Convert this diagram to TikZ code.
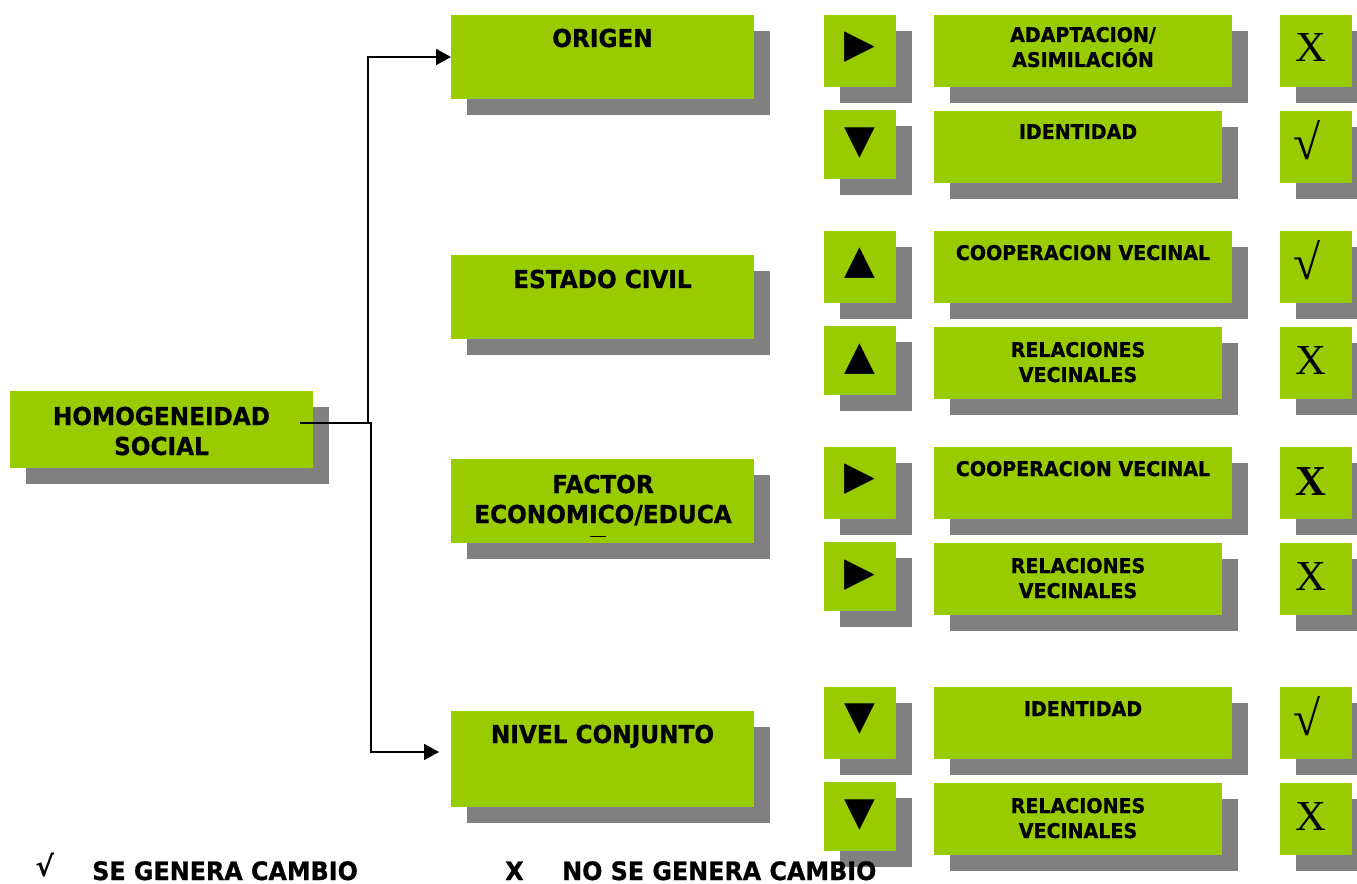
\documentclass[tikz,border=0pt]{standalone}
\usepackage{fontspec}
\newfontfamily\hf{DejaVu Sans}[FakeStretch=0.94, BoldFeatures={FakeBold=0.8}]
\newfontfamily\tnr{Liberation Serif}
\newfontfamily\symf{DejaVu Sans}
\usetikzlibrary{shadows,calc,arrows.meta}
\definecolor{boxgreen}{HTML}{99CC00}
\definecolor{shadowgray}{HTML}{808080}
\tikzset{
  gb/.style 2 args={fill=boxgreen, draw=none, inner sep=0pt, outer sep=0pt, anchor=north west,
    minimum width=#1*0.75pt, minimum height=#2*0.75pt,
    drop shadow={shadow xshift=12pt, shadow yshift=-12pt, fill=shadowgray, opacity=1}},
  htext/.style={font=\hf\bfseries\fontsize{18.5}{22.5}\selectfont, align=center, inner sep=0pt, anchor=base},
  stext/.style={font=\hf\bfseries\fontsize{15.2}{18.75}\selectfont, align=center, inner sep=0pt, anchor=base},
  tri/.style={font=\symf\fontsize{30}{30}\selectfont, inner sep=0pt, anchor=center},
  res/.style={font=\tnr\fontsize{32}{34}\selectfont, inner sep=0pt, anchor=center},
  rad/.style={font=\tnr\fontsize{37}{38}\selectfont, inner sep=0pt, anchor=center},
  legend/.style={font=\hf\bfseries\fontsize{19}{22}\selectfont, inner sep=0pt, anchor=base west},
  conn/.style={line width=1.5pt, draw=black, -{Triangle[length=11.25pt,width=12pt]}},
}
\begin{document}
\begin{tikzpicture}[x=0.75pt,y=-0.75pt]
\useasboundingbox (0,0) rectangle (1357,884);
% left column
\node[gb={303}{77}] (homo) at (10,391) {};
\node[gb={303}{84}] (origen) at (451,15) {};
\node[gb={303}{84}] (estado) at (451,255) {};
\node[gb={303}{84}] (factor) at (451,459) {};
\node[gb={303}{96}] (nivel) at (451,711) {};
\node[htext] (thomo) at (161.5,455) {HOMOGENEIDAD\\SOCIAL};
\node[htext] (torigen) at (602.5,47) {ORIGEN};
\node[htext] (testado) at (602.5,288) {ESTADO CIVIL};
\node[htext] (tfactor) at (603,523) {FACTOR\\ECONOMICO/EDUCA};
\draw[line width=0.75pt] (590,536) -- (606,536);
\node[htext] (tnivel) at (602.5,743) {NIVEL CONJUNTO};
% connectors
\coordinate (hs) at (300,422.5);
\coordinate (nv) at (439,752);
\draw[conn] (hs) -- (368,422.5) |- (origen.west);
\draw[conn] (hs) -- (371,422.5) |- (nv);
% arrow boxes
\node[gb={72}{72}] (a1) at (824,15) {};
\node[gb={72}{69}] (a2) at (824,110) {};
\node[gb={72}{72}] (a3) at (824,231) {};
\node[gb={72}{69}] (a4) at (824,326) {};
\node[gb={72}{72}] (a5) at (824,447) {};
\node[gb={72}{69}] (a6) at (824,542) {};
\node[gb={72}{72}] (a7) at (824,687) {};
\node[gb={72}{69}] (a8) at (824,782) {};
\node[tri] at (860,47.5) {▶};
\node[tri] at (860,143) {▼};
\node[tri] at (860,263.5) {▲};
\node[tri] at (860,359) {▲};
\node[tri] at (860,479.5) {▶};
\node[tri] at (860,575) {▶};
\node[tri] at (860,719.5) {▼};
\node[tri] at (860,815) {▼};
% text boxes
\node[gb={298}{72}] (b1) at (934,15) {};
\node[gb={288}{72}] (b2) at (934,111) {};
\node[gb={298}{72}] (b3) at (934,231) {};
\node[gb={288}{72}] (b4) at (934,327) {};
\node[gb={298}{72}] (b5) at (934,447) {};
\node[gb={288}{72}] (b6) at (934,543) {};
\node[gb={298}{72}] (b7) at (934,687) {};
\node[gb={288}{72}] (b8) at (934,783) {};
\node[stext] at (1083,67) {ADAPTACION/\\ASIMILACIÓN};
\node[stext] at (1078,139) {IDENTIDAD};
\node[stext] at (1083,260) {COOPERACION VECINAL};
\node[stext] at (1078,382) {RELACIONES\\VECINALES};
\node[stext] at (1083,476) {COOPERACION VECINAL};
\node[stext] at (1078,598) {RELACIONES\\VECINALES};
\node[stext] at (1083,716) {IDENTIDAD};
\node[stext] at (1078,838) {RELACIONES\\VECINALES};
% result boxes
\node[gb={72}{72}] (r1) at (1280,15) {};
\node[gb={72}{72}] (r2) at (1280,111) {};
\node[gb={72}{72}] (r3) at (1280,231) {};
\node[gb={72}{72}] (r4) at (1280,327) {};
\node[gb={72}{72}] (r5) at (1280,447) {};
\node[gb={72}{72}] (r6) at (1280,543) {};
\node[gb={72}{72}] (r7) at (1280,687) {};
\node[gb={72}{72}] (r8) at (1280,783) {};
\node[res] at (1310.5,48) {X};
\node[rad] at (1307.5,140) {√};
\node[rad] at (1307.5,260) {√};
\node[res] at (1310.5,361) {X};
\node[res,font=\tnr\bfseries\fontsize{32}{34}\selectfont] at (1310.5,481.5) {X};
\node[res] at (1310.5,577) {X};
\node[rad] at (1307.5,716.5) {√};
\node[res] at (1310.5,817) {X};
% legend
\node[legend,font=\symf\bfseries\fontsize{21}{22}\selectfont] at (35,876) {√};
\node[legend] at (92,880) {SE GENERA CAMBIO};
\node[legend] at (505,880) {X};
\node[legend] at (562,880) {NO SE GENERA CAMBIO};
\end{tikzpicture}
\end{document}
